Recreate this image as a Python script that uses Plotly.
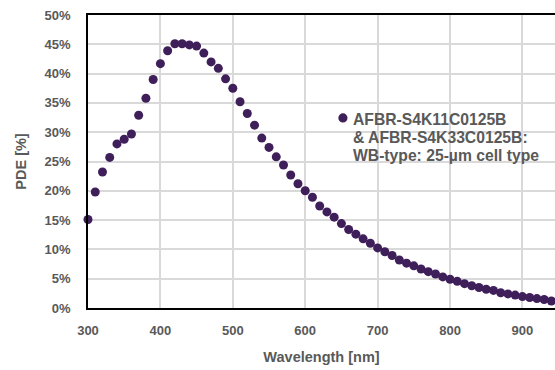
import plotly.graph_objects as go

# Photon detection efficiency vs. wavelength, 10 nm steps
wavelength_nm = list(range(300, 950, 10))
pde_percent = [
    15.1, 19.8, 23.2, 25.7, 28.0, 28.8, 29.7, 32.9, 35.8, 39.0,
    41.7, 43.9, 45.1, 45.1, 44.9, 44.7, 43.5, 42.0, 40.9, 39.1,
    37.5, 35.2, 33.2, 31.2, 29.0, 27.4, 25.8, 24.4, 22.7, 21.2,
    20.0, 18.9, 17.4, 16.4, 15.5, 14.4, 13.4, 12.6, 11.8, 11.05,
    10.25, 9.6, 8.95, 8.2, 7.65, 7.2, 6.65, 6.2, 5.8, 5.3,
    4.9, 4.55, 4.15, 3.8, 3.5, 3.2, 3.0, 2.6, 2.4, 2.2,
    1.95, 1.8, 1.6, 1.45, 1.2,
]
pde_fraction = [v / 100 for v in pde_percent]

x_ticks = [300, 400, 500, 600, 700, 800, 900]
y_ticks = [i / 100 for i in range(0, 55, 5)]

series_label_lines = [
    "AFBR-S4K11C0125B",
    "& AFBR-S4K33C0125B:",
    "WB-type: 25-µm cell type",
]

marker_color = "#3f1f5a"
label_grey = "#595959"
grid_grey = "#d9d9d9"

W, H = 555, 370
ML, MR, MT, MB = 87.5, 0, 14.7, 62.3
PW, PH = W - ML - MR, H - MT - MB


def px_x(px):
    return (px - ML) / PW


def px_y(py):
    return (H - MB - py) / PH


fig = go.Figure()
fig.add_trace(go.Scatter(
    x=wavelength_nm,
    y=pde_fraction,
    mode="markers",
    marker=dict(size=9, color=marker_color),
    showlegend=False,
    cliponaxis=False,
))

# Legend: swatch circle plus three left-aligned text lines
r = 4.6
cx, cy = 342.7, 117.6
fig.add_shape(
    type="circle", xref="paper", yref="paper",
    x0=px_x(cx - r), x1=px_x(cx + r), y0=px_y(cy + r), y1=px_y(cy - r),
    fillcolor=marker_color, line=dict(width=0),
)
for i, line in enumerate(series_label_lines):
    fig.add_annotation(
        xref="paper", yref="paper", x=px_x(351.0), y=px_y(118.8 + 18.2 * i),
        text=line, showarrow=False, xanchor="left", yanchor="middle", align="left",
        font=dict(family="Liberation Sans", size=15.7, color=label_grey, weight="bold"),
    )

fig.update_layout(
    width=W, height=H,
    margin=dict(l=ML, r=MR, t=MT, b=MB),
    paper_bgcolor="white", plot_bgcolor="white",
    font=dict(family="Liberation Sans", color=label_grey),
    xaxis=dict(
        range=[300, 945], tickvals=x_ticks,
        showgrid=True, gridcolor=grid_grey, gridwidth=1.6,
        showline=True, linecolor="black", linewidth=1.6, mirror=True,
        zeroline=False, ticks="", ticklabelstandoff=10,
        tickfont=dict(size=13, color=label_grey, weight="bold"),
        title=dict(text="Wavelength [nm]", standoff=14,
                   font=dict(size=14.5, color=label_grey, weight="bold")),
    ),
    yaxis=dict(
        range=[0, 0.5], tickvals=y_ticks, tickformat=".0%",
        showgrid=True, gridcolor=grid_grey, gridwidth=1.6,
        showline=True, linecolor="black", linewidth=1.6,
        zeroline=False, ticks="", ticklabelstandoff=13,
        tickfont=dict(size=13, color=label_grey, weight="bold"),
        title=dict(text="PDE [%]", standoff=14,
                   font=dict(size=14.5, color=label_grey, weight="bold")),
    ),
)

fig.write_html("out.html")
